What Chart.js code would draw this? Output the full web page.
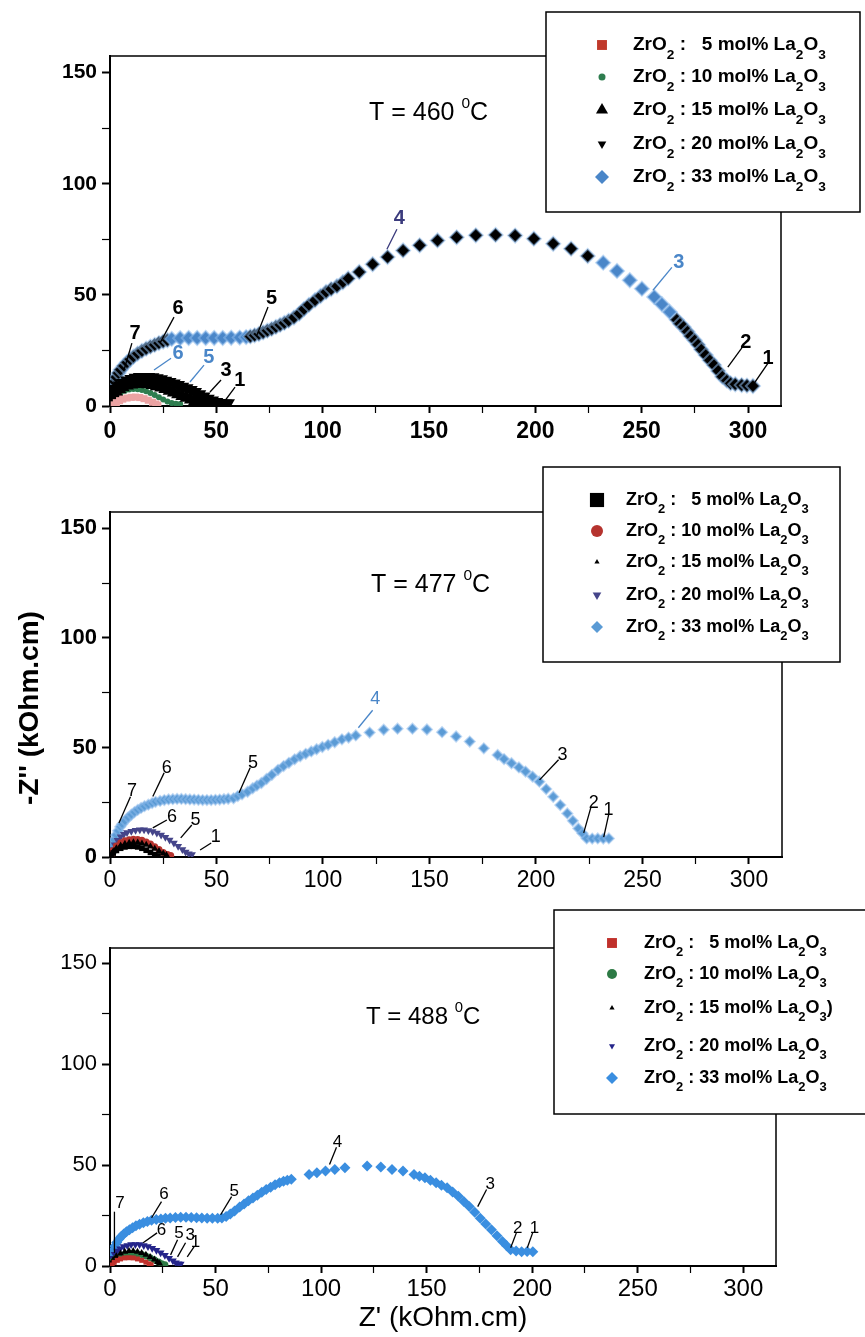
<!DOCTYPE html>
<html>
<head>
<meta charset="utf-8">
<script src="https://cdn.jsdelivr.net/npm/chart.js@4.4.1/dist/chart.umd.min.js"></script>
<style>
  body { margin: 0; background: #fff; }
  #wrap { position: relative; width: 865px; height: 1337px; overflow: hidden; }
  canvas { position: absolute; left: 0; }
</style>
</head>
<body>
<div id="wrap">
  <canvas id="c460" width="865" height="460" style="top:0px"></canvas>
  <canvas id="c477" width="865" height="450" style="top:450px"></canvas>
  <canvas id="c488" width="865" height="447" style="top:890px"></canvas>
</div>
<script>
// legend names (unicode sub/superscripts are drawn as small lowered / raised digits)
const seriesNames = ['ZrO₂ :   5 mol% La₂O₃', 'ZrO₂ : 10 mol% La₂O₃', 'ZrO₂ : 15 mol% La₂O₃', 'ZrO₂ : 20 mol% La₂O₃', 'ZrO₂ : 33 mol% La₂O₃'];
const seriesNames488 = ['ZrO₂ :   5 mol% La₂O₃', 'ZrO₂ : 10 mol% La₂O₃', 'ZrO₂ : 15 mol% La₂O₃)', 'ZrO₂ : 20 mol% La₂O₃', 'ZrO₂ : 33 mol% La₂O₃'];
const temps = ['T = 460 ⁰C', 'T = 477 ⁰C', 'T = 488 ⁰C'];
const zReTicks = [0, 50, 100, 150, 200, 250, 300];
const zImTicks = [0, 50, 100, 150];

// ---- T = 460 C ----
const re460_5 = [2, 3, 4.5, 6, 8, 10, 12, 14, 16, 18, 20, 21.5, 22.5];
const im460_5 = [0.5, 1.5, 2.4, 3.1, 3.6, 3.9, 4, 3.8, 3.3, 2.6, 1.7, 0.9, 0.4];
const re460_10 = [0.5, 1.5, 3, 5, 7, 9, 11, 13, 15, 17, 19, 21, 23, 25, 27, 29, 31, 33];
const im460_10 = [0.8, 2.8, 4.6, 6, 6.9, 7.4, 7.6, 7.5, 7.2, 6.6, 5.8, 4.9, 3.9, 2.9, 2, 1.3, 1, 0.9];
const re460_15 = [0.5, 1, 2, 3, 4.5, 6, 8, 10, 12, 14, 16, 18, 20, 22, 24, 26, 28, 30, 32, 34, 36, 38, 40, 42, 44, 46];
const im460_15 = [0.8, 2.8, 4.8, 6.2, 7.5, 8.4, 9.2, 9.7, 10, 10.1, 10, 9.8, 9.4, 8.9, 8.3, 7.6, 6.9, 6.1, 5.3, 4.5, 3.7, 2.9, 2.2, 1.6, 1.2, 1];
const re460_20 = [0.5, 1, 2, 3, 4.5, 6, 8, 10, 12, 14, 16, 18, 20, 22, 24, 26, 28, 30, 32, 34, 36, 38, 40, 42, 44, 46, 48, 50, 52, 54, 55.5];
const im460_20 = [1, 3.5, 5.8, 7.6, 9.2, 10.4, 11.5, 12.2, 12.7, 13, 13.1, 13.1, 12.9, 12.5, 12, 11.4, 10.8, 10.1, 9.4, 8.7, 8, 7.2, 6.3, 5.3, 4.3, 3.3, 2.5, 1.8, 1.3, 1.1, 1.2];
const re460_33 = [0.5, 1, 1.5, 2.2, 3, 4, 5, 6.5, 8, 9.5, 11, 13, 15, 17, 19, 21, 23, 25, 27,
  29, 33, 37, 41, 45, 49, 53, 57, 61, 64,
  66, 68, 70, 72, 74, 76, 78, 80, 82, 84, 86.5, 89, 91.2, 93.5, 96.4, 99, 101.6, 104, 106.7, 109.5, 112,
  117.2, 123.5, 130.5, 137.8, 145.6, 154, 163, 172, 181.3, 190.5, 199.3, 208.4, 216.8, 224.6, 231.9, 238.4, 244.4, 250.1, 255.9, 259.5, 263.2,
  266.5, 268, 269.7, 271.5, 273, 274.9, 276.5, 278, 280.1, 282, 284, 286, 287.9, 290, 291.8, 294, 297, 299.5, 302.3];
const im460_33 = [3, 6, 8.5, 11, 13, 14.8, 16.3, 18, 19.6, 21, 22.2, 23.6, 24.8, 25.8, 26.7, 27.5, 28.3, 29, 29.6,
  30.2, 30.5, 30.6, 30.6, 30.6, 30.6, 30.6, 30.7, 30.8, 31,
  31.3, 31.8, 32.4, 33.1, 33.9, 34.7, 35.6, 36.5, 37.4, 38.4, 39.8, 41.6, 43.6, 45.5, 47.6, 49.5, 51.3, 52.6, 53.9, 55.7, 57.4,
  60.3, 63.8, 67, 70, 72.3, 74.5, 75.9, 76.8, 77, 76.7, 75.3, 73, 70.8, 67.5, 64.5, 60.8, 56.6, 52.8, 49.1, 45.8, 42.3,
  38.8, 37, 35.6, 33.5, 31.5, 29.6, 27.6, 25.4, 22.9, 20.6, 18.4, 15.8, 13.2, 11.5, 10.2, 9.8, 9.4, 9.2, 9];

// ---- T = 477 C ----
const re477_5 = [0.5, 1.5, 3, 5, 7, 9, 11, 13, 15, 17, 19, 21, 22.5];
const im477_5 = [0.6, 1.8, 3, 4, 4.6, 4.9, 4.9, 4.6, 4, 3.1, 2.1, 1.1, 0.5];
const re477_10 = [0.5, 1.5, 3, 5, 7, 9, 11, 13, 15, 17, 19, 21, 23, 25, 27, 28.5];
const im477_10 = [1, 3, 5, 6.5, 7.4, 7.9, 8.1, 8, 7.6, 6.9, 5.9, 4.7, 3.4, 2.1, 1.1, 0.7];
const re477_15 = [0.5, 1.5, 3, 5, 7, 9, 11, 13, 15, 17, 19, 21, 23, 25, 26.5];
const im477_15 = [0.8, 2.5, 4, 5.2, 6, 6.5, 6.7, 6.6, 6.2, 5.6, 4.8, 3.8, 2.7, 1.6, 0.9];
const re477_20 = [0.5, 1.2, 2.2, 3.5, 5, 6.5, 8, 10, 12, 14, 16, 18, 20, 22, 24, 26, 28, 30, 32, 34, 35.5, 37, 38.5];
const im477_20 = [1, 3.4, 5.6, 7.6, 9.2, 10.4, 11.2, 11.8, 12.2, 12.4, 12.4, 12.1, 11.6, 10.9, 10, 9, 7.8, 6.4, 4.9, 3.4, 2.3, 1.5, 1.1];
const re477_33 = [0.5, 1, 1.8, 2.8, 3.8, 4.8, 5.7, 7, 8.5, 10, 11.5, 13, 14.6, 16.2, 18, 19.8, 21.4, 23.5, 25.5, 27.5, 29.5, 31.5, 33.5, 35.5, 37.5, 39.5, 41.5, 43.5, 45.5, 47.5, 49.5, 51.5, 53.5, 55.5, 58,
  60, 62, 64.6, 67, 69, 71.1, 73.5, 76, 78.9, 81.5, 84, 86.7, 89.3, 91.9, 94.5, 97, 99.7, 102.4, 105.5, 108.9, 112, 115.4,
  121.9, 128.5, 135, 142, 148.8, 155.9,
  162.5, 168.9, 175.5, 182, 185, 188.5, 192, 195.1, 198.4, 201.6, 204.8, 208.1, 211.4, 214.7, 217.3, 219.9, 221.8, 223.8, 226.4, 229, 231.6, 234.2];
const im477_33 = [3, 5, 7.8, 10, 12, 13.8, 15, 16.5, 18, 19.3, 20.5, 21.5, 22.4, 23.2, 23.9, 24.6, 25.2, 25.6, 26, 26.3, 26.4, 26.5, 26.5, 26.4, 26.3, 26.2, 26.1, 26, 26, 26, 26.1, 26.2, 26.4, 26.6, 26.8,
  27.8, 28.6, 29.8, 31.4, 32.6, 33.8, 35.6, 37.5, 39.8, 41.5, 43, 44.6, 46, 47.1, 48.2, 49.2, 50.2, 51.2, 52.4, 53.7, 54.5, 55.5,
  56.8, 58.1, 58.6, 58.6, 58.2, 57,
  55, 52.7, 49.6, 46.6, 44.7, 42.8, 40.9, 39, 36.7, 34.4, 31, 27.5, 23.7, 19.9, 16.5, 13, 10.8, 8.5, 8.4, 8.5, 8.4, 8.5];

// ---- T = 488 C ----
const re488_5 = [1, 2, 3.5, 5, 7, 9, 11, 13, 15, 17, 18.5, 19.5];
const im488_5 = [0.5, 1.8, 2.8, 3.5, 4, 4.1, 4, 3.5, 2.8, 1.9, 1.1, 0.6];
const re488_10 = [0.5, 1.5, 3, 5, 7, 9, 11, 13, 15, 17, 19, 21, 23, 24.5, 26];
const im488_10 = [0.8, 2.4, 3.8, 5, 5.8, 6.2, 6.3, 6.1, 5.7, 5, 4.1, 3.1, 2, 1.1, 0.6];
const re488_15 = [0.5, 1.5, 3, 5, 7, 9, 11, 13, 15, 17, 19, 21, 22.5, 23.5];
const im488_15 = [1, 3, 4.8, 6.2, 7, 7.4, 7.4, 7.1, 6.5, 5.6, 4.5, 3.2, 2, 1.2];
const re488_20 = [0.5, 1.2, 2.2, 3.4, 4.8, 6.4, 8.2, 10, 12, 14, 16, 18, 20, 22, 24, 26, 28, 29.8, 31.2, 32.5, 33.5];
const im488_20 = [1.5, 3.8, 5.8, 7.4, 8.6, 9.6, 10.2, 10.6, 10.7, 10.6, 10.2, 9.6, 8.8, 7.8, 6.6, 5.3, 3.9, 2.6, 1.6, 1.1, 1];
const re488_33 = [0.3, 0.8, 1.5, 2.3, 3.2, 4.2, 5.3, 6.5, 7.8, 9.2, 10.7, 12.3, 14, 15.8, 17.7, 19.7, 21.9, 24.1, 26.3, 28.5, 31, 33.5, 36, 38.5, 41, 43.5, 46, 48.5, 51, 53,
  55, 57, 59, 61.4, 63.5, 65.6, 67.7, 69.8, 71.9, 74, 76.1, 78.2, 80.3, 82.2, 84, 85.9,
  94.3, 98, 102.1, 106.5, 111.3,
  121.8, 128.3, 133.6, 138.8, 144, 146.6, 149.2, 151.8, 154.5, 157, 159.7, 162.3, 165, 167.6, 170.2, 172.8, 175.4, 178, 180.7, 183.3, 185.9, 187.9, 189.8, 192.4, 195, 197.6, 200.3];
const im488_33 = [3.5, 5.5, 7.8, 9.8, 11.6, 13.2, 14.6, 15.9, 17, 18, 19, 19.9, 20.7, 21.4, 22, 22.6, 23, 23.3, 23.6, 23.8, 24, 24.1, 24.1, 24, 23.9, 23.8, 23.7, 23.6, 23.6, 23.8,
  24.5, 25.8, 27.3, 29.2, 30.7, 32.3, 33.7, 35.1, 36.5, 37.9, 39, 40.2, 41.2, 42, 42.5, 43,
  45.3, 46.2, 47, 47.8, 48.7,
  49.5, 49, 47.8, 47, 45.3, 44.5, 43.7, 42.5, 41.2, 40, 38.7, 36.7, 34.5, 32, 29.5, 26.6, 23.7, 20.8, 17.9, 15, 12.1, 10, 8, 7.4, 7.1, 7.2, 7.1];

// frequency labels 1..7: text spot and leader line, in data units
const notes460 = [
  { t: '7', x: 11.8, y: 32.8, l: [6.6, 16.2, 10.3, 28.3] },
  { t: '6', x: 32, y: 44, l: [23.5, 28.3, 30.1, 40] },
  { t: '5', x: 76, y: 48.5, l: [69.1, 31.9, 74.3, 44.5] },
  { t: '4', x: 136, y: 84.4, l: [130.2, 70.5, 134.9, 79.5], c: '#3b3b7d' },
  { t: '3', x: 267.5, y: 64.7, l: [255.3, 52.1, 264.2, 62.4], c: '#4a86c8' },
  { t: '2', x: 299, y: 28.7, l: [290.5, 17.5, 297.1, 26.2] },
  { t: '1', x: 309.4, y: 21.5, l: [302.3, 9.4, 309.4, 19.3] },
  { t: '6', x: 32, y: 23.8, l: [20.7, 16.2, 28.7, 21.5], c: '#4a86c8' },
  { t: '5', x: 46.5, y: 22, l: [37.6, 10.8, 44.2, 18.4], c: '#4a86c8' },
  { t: '3', x: 54.6, y: 16.2, l: [47, 6.3, 52.2, 11.7] },
  { t: '1', x: 61, y: 11.7, l: [53.6, 1.8, 58.8, 8.5] }
];
const notes477 = [
  { t: '7', x: 10.3, y: 29.9, l: [4.2, 15.5, 9.6, 27.5] },
  { t: '6', x: 26.7, y: 40.6, l: [20.1, 27.6, 25.4, 38.4] },
  { t: '5', x: 67.1, y: 42.8, l: [60.6, 29.3, 65.8, 40.7] },
  { t: '4', x: 124.5, y: 72, l: [116.6, 59, 123.3, 67], c: '#4a86c8' },
  { t: '3', x: 212.5, y: 46.6, l: [201.7, 35.2, 210.6, 44.4] },
  { t: '2', x: 227.1, y: 24.7, l: [222.4, 11, 225.7, 22.4] },
  { t: '1', x: 234.1, y: 21.5, l: [231.8, 9.1, 234.1, 19.2] },
  { t: '6', x: 29.1, y: 18.4, l: [20.1, 13.3, 26.7, 16.9] },
  { t: '5', x: 40.2, y: 16.9, l: [33.2, 8.7, 38.4, 14.6] },
  { t: '1', x: 49.6, y: 9.3, l: [42.3, 3.2, 47.5, 6.4] }
];
const notes488 = [
  { t: '7', x: 4.7, y: 30.9, l: [2.1, 6.5, 2.1, 26.9] },
  { t: '6', x: 25.6, y: 35.4, l: [19.7, 23.9, 24.4, 31.9] },
  { t: '5', x: 58.9, y: 37, l: [52.4, 25.4, 57.6, 34.4] },
  { t: '4', x: 107.8, y: 61.3, l: [104, 50.3, 107.3, 58.8] },
  { t: '3', x: 180.1, y: 40.4, l: [174.2, 29.4, 178.4, 37.9] },
  { t: '2', x: 193.1, y: 18.9, l: [189.8, 9, 192.5, 16.4] },
  { t: '1', x: 201.1, y: 18.9, l: [197.7, 9, 200.2, 16.4] },
  { t: '6', x: 24.4, y: 17.9, l: [15.7, 11.5, 22.3, 16.4] },
  { t: '5', x: 32.7, y: 16.4, l: [28.7, 5.5, 32, 13] },
  { t: '3', x: 38, y: 15.4, l: [32, 4.5, 35.8, 11.5] },
  { t: '1', x: 40.5, y: 11.5, l: [36.6, 4.5, 39.8, 9.5] }
];

const FONT = '"Liberation Sans", Arial, sans-serif';
const SUB = '₀₁₂₃₄₅₆₇₈₉', SUP = '⁰¹²³⁴⁵⁶⁷⁸⁹';

function drawRich(ctx, text, x, y, size, weight, family) {
  let cx = x;
  for (const ch of text) {
    let s = size, dy = 0, c = ch;
    const si = SUB.indexOf(ch), pi = SUP.indexOf(ch);
    if (si >= 0) { c = String(si); s = size * 0.72; dy = size * 0.55; }
    else if (pi >= 0) { c = String(pi); s = size * 0.62; dy = -size * 0.38; }
    ctx.font = weight + ' ' + s + 'px ' + family;
    ctx.fillText(c, cx, y + dy);
    cx += ctx.measureText(c).width;
  }
}

const panelDecor = {
  id: 'panelDecor',
  beforeDatasetsDraw(chart, args, o) {
    const { ctx, chartArea: a } = chart;
    ctx.save();
    ctx.strokeStyle = '#000';
    ctx.lineWidth = 1.5;
    ctx.beginPath();
    ctx.moveTo(a.left, a.top);
    ctx.lineTo(a.right, a.top);
    ctx.lineTo(a.right, a.bottom);
    ctx.stroke();
    ctx.restore();
  },
  afterDraw(chart, args, o) {
    const { ctx, scales: { x, y } } = chart;
    ctx.save();
    // numbered frequency markers
    ctx.textAlign = 'center';
    ctx.textBaseline = 'middle';
    ctx.font = o.noteFont;
    o.notes.forEach(n => {
      ctx.strokeStyle = ctx.fillStyle = n.c || '#000';
      ctx.lineWidth = 1.3;
      ctx.beginPath();
      ctx.moveTo(x.getPixelForValue(n.l[0]), y.getPixelForValue(n.l[1]));
      ctx.lineTo(x.getPixelForValue(n.l[2]), y.getPixelForValue(n.l[3]));
      ctx.stroke();
      ctx.fillText(n.t, x.getPixelForValue(n.x), y.getPixelForValue(n.y));
    });
    // temperature
    ctx.textAlign = 'left';
    ctx.fillStyle = '#000';
    drawRich(ctx, o.temp.text, o.temp.x, o.temp.y, o.temp.size, 'normal', FONT);
    // shared y title
    if (o.ytitle) {
      ctx.save();
      ctx.translate(o.ytitle.x, o.ytitle.y);
      ctx.rotate(-Math.PI / 2);
      ctx.textAlign = 'center';
      ctx.font = 'bold ' + o.ytitle.size + 'px ' + FONT;
      ctx.fillText(o.ytitle.text, 0, 0);
      ctx.restore();
    }
    // legend box
    const L = o.legend;
    ctx.fillStyle = '#fff';
    ctx.fillRect(L.x, L.y, L.w, L.h);
    ctx.strokeStyle = '#000';
    ctx.lineWidth = 1.5;
    ctx.strokeRect(L.x, L.y, L.w, L.h);
    chart.data.datasets.forEach((ds, i) => {
      const ry = L.rows[i];
      ctx.fillStyle = ds.keyColor;
      Chart.helpers.drawPoint(ctx, { pointStyle: ds.pointStyle, rotation: ds.pointRotation || 0, radius: L.marks[i], borderWidth: 0 }, L.mx, ry);
      ctx.fillStyle = '#000';
      drawRich(ctx, ds.label, L.tx, ry, L.size, 'bold', FONT);
    });
    ctx.restore();
  }
};

function pts(re, im) {
  return re.map((v, i) => ({ x: v, y: im[i] }));
}

function series(label, re, im, o) {
  return Object.assign({
    label: label,
    data: pts(re, im),
    showLine: false,
    pointStyle: o.style,
    pointRotation: o.rot || 0,
    pointRadius: o.r,
    pointBackgroundColor: o.color,
    pointBorderColor: o.color,
    pointBorderWidth: 0,
    keyColor: o.key || o.color,
    order: o.order
  }, o.extra || {});
}

function withMinor(t) {
  const out = [];
  t.forEach((v, i) => {
    out.push(v);
    if (i < t.length - 1) out.push((v + t[i + 1]) / 2);
  });
  return out;
}

function axes(o) {
  const tw = c => (c.tick && c.tick.value % 50 === 0) ? 2 : 1.2;
  return {
    x: {
      type: 'linear', min: 0, max: 315.5,
      afterBuildTicks: s => { s.ticks = withMinor(zReTicks).map(v => ({ value: v })); },
      afterFit: s => { s.height = o.xh; },
      ticks: { autoSkip: false, maxRotation: 0, padding: o.xpad, color: '#000', font: o.xfont,
        callback: v => zReTicks.includes(v) ? String(v) : '' },
      grid: { drawOnChartArea: false, tickLength: 7, tickColor: '#000', tickWidth: tw },
      border: { color: '#000', width: 2 },
      title: o.xtitle || { display: false }
    },
    y: {
      type: 'linear', min: 0, max: 157.5,
      afterBuildTicks: s => { s.ticks = withMinor(zImTicks).map(v => ({ value: v })); },
      afterFit: s => { s.width = 60; },
      ticks: { autoSkip: false, padding: 5, color: '#000', font: o.yfont,
        callback: v => zImTicks.includes(v) ? String(v) : '' },
      grid: { drawOnChartArea: false, tickLength: 8, tickColor: '#000', tickWidth: tw },
      border: { color: '#000', width: 2 }
    }
  };
}

function makeChart(id, datasets, layoutPad, axOpts, decor) {
  return new Chart(document.getElementById(id), {
    type: 'scatter',
    data: { datasets: datasets },
    options: {
      responsive: false,
      animation: false,
      events: [],
      layout: { padding: layoutPad },
      scales: axes(axOpts),
      plugins: { legend: { display: false }, tooltip: { enabled: false }, panelDecor: decor }
    },
    plugins: [panelDecor]
  });
}

// blue stretches of the 460 C curve (the rest of it is printed black)
const blue460 = '#4a86c8';
const blueRuns460 = [[28, 64.5], [229, 265]];
const halo = { pointBorderColor: 'rgba(140,185,235,0.55)', pointBorderWidth: 2 };

makeChart('c460', [
  series(seriesNames[0], re460_5, im460_5, { style: 'rect', r: 5, color: '#eba3a3', key: '#c0392b', order: 0 }),
  series(seriesNames[1], re460_10, im460_10, { style: 'circle', r: 3, color: '#2e7d4f', order: 3 }),
  series(seriesNames[2], re460_15, im460_15, { style: 'triangle', r: 8, color: '#000', order: 1 }),
  series(seriesNames[3], re460_20, im460_20, { style: 'triangle', rot: 180, r: 8, color: '#000', order: 2 }),
  series(seriesNames[4], re460_33, im460_33, { style: 'rectRot', r: 7, color: '#000', key: blue460, order: 4,
    extra: Object.assign({
      pointBackgroundColor: c => (c.raw && blueRuns460.some(b => c.raw.x >= b[0] && c.raw.x <= b[1])) ? blue460 : '#000'
    }, halo) })
], { left: 50, right: 84, top: 56, bottom: 14 },
{ xh: 40, xpad: 5, xfont: { family: FONT, size: 23, weight: 'bold' }, yfont: { family: FONT, size: 21, weight: 'bold' } },
{
  notes: notes460, noteFont: 'bold 20px ' + FONT,
  temp: { text: temps[0], x: 369, y: 113, size: 25 },
  legend: { x: 546, y: 12, w: 314, h: 200, mx: 602, tx: 633, rows: [45, 77, 110, 144, 177], marks: [7, 3.5, 7, 5, 7], size: 19 }
});

makeChart('c477', [
  series(seriesNames[0], re477_5, im477_5, { style: 'rect', r: 4, color: '#000', key: '#000', order: 0 }),
  series(seriesNames[1], re477_10, im477_10, { style: 'circle', r: 3.5, color: '#b5332e', order: 2 }),
  series(seriesNames[2], re477_15, im477_15, { style: 'triangle', r: 4, color: '#000', order: 1 }),
  series(seriesNames[3], re477_20, im477_20, { style: 'triangle', rot: 180, r: 4.5, color: '#45458a', order: 3 }),
  series(seriesNames[4], re477_33, im477_33, { style: 'rectRot', r: 5, color: '#5b9bd5', order: 4, extra: halo })
], { left: 50, right: 83, top: 62, bottom: 3 },
{ xh: 40, xpad: 3, xfont: { family: FONT, size: 23 }, yfont: { family: FONT, size: 22, weight: 'bold' } },
{
  notes: notes477, noteFont: '18px ' + FONT,
  temp: { text: temps[1], x: 371, y: 135, size: 25 },
  ytitle: { text: "-Z'' (kOhm.cm)", x: 30, y: 258, size: 28 },
  legend: { x: 543, y: 17, w: 297, h: 195, mx: 597, tx: 626, rows: [50, 81, 112, 145, 177], marks: [10, 6, 3, 5, 6], size: 18 }
});

makeChart('c488', [
  series(seriesNames488[0], re488_5, im488_5, { style: 'rect', r: 3.5, color: '#c0302b', order: 0 }),
  series(seriesNames488[1], re488_10, im488_10, { style: 'circle', r: 3.5, color: '#2d7a45', order: 2 }),
  series(seriesNames488[2], re488_15, im488_15, { style: 'triangle', r: 4, color: '#000', order: 1 }),
  series(seriesNames488[3], re488_20, im488_20, { style: 'triangle', rot: 180, r: 4.5, color: '#25258a', order: 3 }),
  series(seriesNames488[4], re488_33, im488_33, { style: 'rectRot', r: 5.5, color: '#3a8ee0', order: 4 })
], { left: 50, right: 89, top: 58, bottom: 0 },
{ xh: 71, xpad: 2, xfont: { family: FONT, size: 24 }, yfont: { family: FONT, size: 22 },
  xtitle: { display: true, text: "Z' (kOhm.cm)", color: '#000', font: { family: FONT, size: 28 }, padding: { top: 0, bottom: 2 } } },
{
  notes: notes488, noteFont: '17px ' + FONT,
  temp: { text: temps[2], x: 366, y: 127, size: 24 },
  legend: { x: 554, y: 20, w: 316, h: 204, mx: 612, tx: 644, rows: [53, 84, 118, 156, 188], marks: [7, 5, 3, 3.5, 6], size: 18 }
});
</script>
</body>
</html>
